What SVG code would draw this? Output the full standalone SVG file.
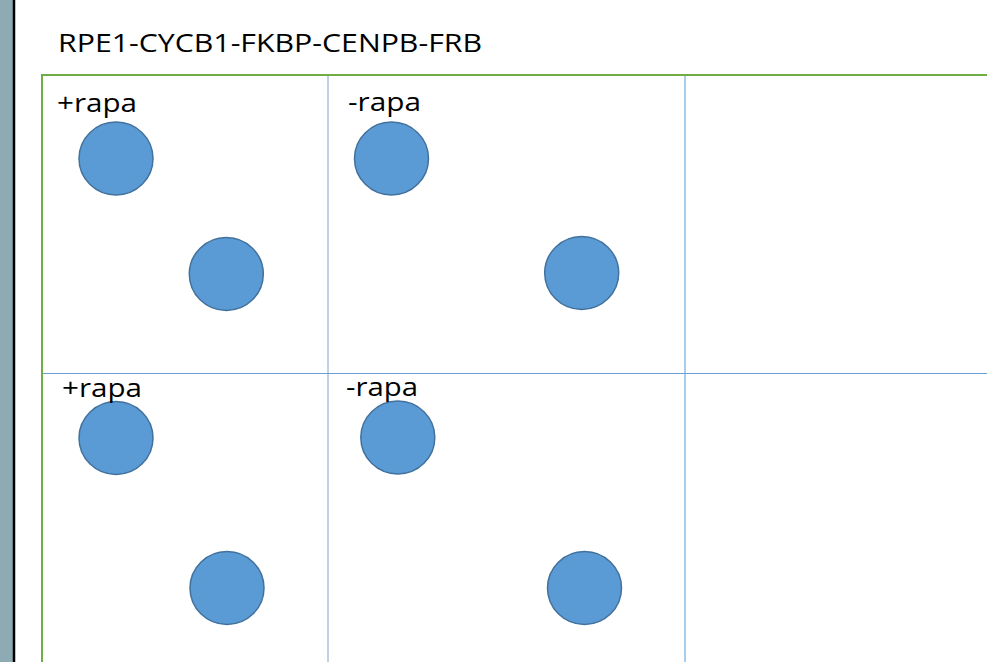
<svg xmlns="http://www.w3.org/2000/svg" width="987" height="662" viewBox="0 0 987 662">
<style>
.cell{fill:#5B9BD5;stroke:#41719C;stroke-width:1.5}
.lbl{font-family:"Open Sans","Liberation Sans",sans-serif;font-size:26px;fill:#000}
</style>
<rect x="0" y="0" width="987" height="662" fill="#fff"/>
<rect x="0" y="0" width="13" height="662" fill="#8EABB4"/>
<line x1="14" y1="0" x2="14" y2="662" stroke="#000" stroke-width="2.5"/>
<text class="lbl" x="58" y="52" style="font-size:25px" textLength="424" lengthAdjust="spacingAndGlyphs">RPE1-CYCB1-FKBP-CENPB-FRB</text>
<g id="grid">
<rect x="42" y="75" width="960" height="600" fill="none" stroke="#70AD47" stroke-width="2"/>
<line x1="328" y1="76" x2="328" y2="662" stroke="#7FA3C8" stroke-width="1"/>
<line x1="685" y1="76" x2="685" y2="662" stroke="#8CBCEA" stroke-width="1.5"/>
<line x1="43" y1="373.5" x2="987" y2="373.5" stroke="#6A9FD3" stroke-width="1.2"/>
</g>
<g id="c1"><ellipse class="cell" cx="116" cy="158.5" rx="37" ry="36.5"/></g>
<g id="c2"><ellipse class="cell" cx="226.3" cy="274" rx="37" ry="36.5"/></g>
<g id="c3"><ellipse class="cell" cx="391.5" cy="158.5" rx="37" ry="36.5"/></g>
<g id="c4"><ellipse class="cell" cx="581.7" cy="273" rx="37" ry="36.5"/></g>
<g id="c5"><ellipse class="cell" cx="116" cy="438" rx="37" ry="36.5"/></g>
<g id="c6"><ellipse class="cell" cx="227" cy="588" rx="37" ry="36.5"/></g>
<g id="c7"><ellipse class="cell" cx="397.8" cy="437.5" rx="37" ry="36.5"/></g>
<g id="c8"><ellipse class="cell" cx="584.5" cy="588" rx="37" ry="36.5"/></g>
<g id="labels">
<text class="lbl" x="57" y="112" textLength="80" lengthAdjust="spacingAndGlyphs">+rapa</text>
<text class="lbl" x="348" y="111" textLength="73" lengthAdjust="spacingAndGlyphs">-rapa</text>
<text class="lbl" x="62" y="397" textLength="80" lengthAdjust="spacingAndGlyphs">+rapa</text>
<text class="lbl" x="346" y="396" textLength="72" lengthAdjust="spacingAndGlyphs">-rapa</text>
</g>
</svg>
